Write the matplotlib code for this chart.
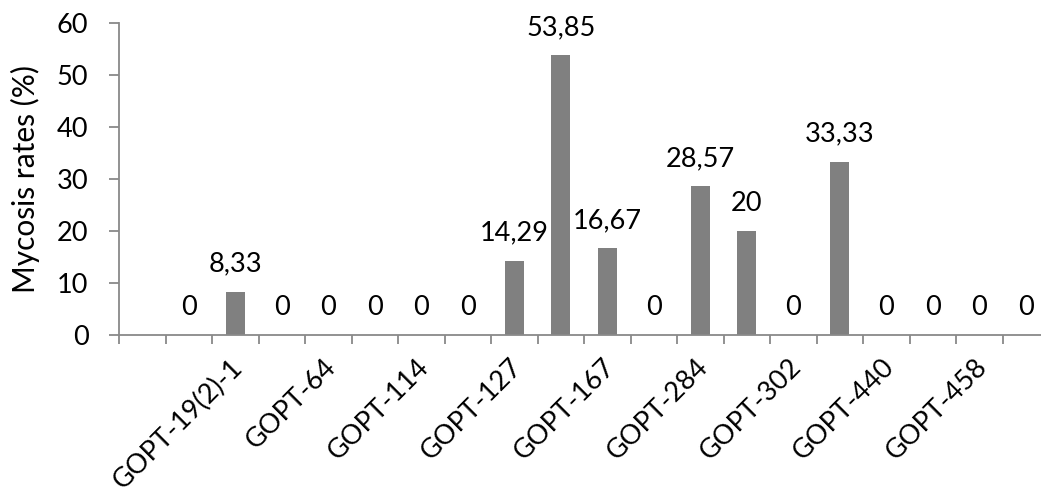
"""
Mycosis rates per GOPT line (bar chart)
"""

import matplotlib.pyplot as plt
import matplotlib.ticker as mticker
import matplotlib.transforms as mtrans

#---------------------------------------------------------------------------------------------------
# Input Parameters
#---------------------------------------------------------------------------------------------------

# Category slots (index 0 is an empty leading slot in the original chart)
n_slots = 20

# Mycosis rates (%) for slots 1..19
rates = [0, 8.33, 0, 0, 0, 0, 0, 14.29, 53.85, 16.67, 0, 28.57, 20, 0, 33.33, 0, 0, 0, 0]

# Only every other category is labelled on the x axis
label_slots = [2, 4, 6, 8, 10, 12, 14, 16, 18]
label_names = ['GOPT-19(2)-1', 'GOPT-64', 'GOPT-114', 'GOPT-127', 'GOPT-167',
               'GOPT-284', 'GOPT-302', 'GOPT-440', 'GOPT-458']

ylabel = 'Mycosis rates (%)'
yticks = [0, 10, 20, 30, 40, 50, 60]

out_fname = 'out.png'

#---------------------------------------------------------------------------------------------------
# Main Program
#---------------------------------------------------------------------------------------------------

plt.rcParams['font.family'] = ['Lato', 'DejaVu Sans']
fontsize = 19.5
axis_color = '#898989'

W, H = 1041, 493
fig = plt.figure(figsize=(W / 100, H / 100), dpi=100)
ax = fig.add_axes([119 / W, (H - 335) / H, 930 / W, (335 - 23) / H])

slots = list(range(1, n_slots))
ax.bar(slots, rates, width=0.4, color='#808080', zorder=2)

# Data labels
for x, v in zip(slots, rates):
    txt = f"{v:g}".replace('.', ',')
    ax.annotate(txt, (x, v), xytext=(0, 14.5), textcoords='offset points',
                ha='center', va='baseline', fontsize=fontsize)

# Axes limits and ticks
ax.set_xlim(-0.5, n_slots - 0.5)
ax.set_ylim(0, 60)
ax.set_yticks(yticks)
ax.xaxis.set_major_locator(mticker.FixedLocator([i - 0.5 for i in range(n_slots + 1)]))
ax.xaxis.set_major_formatter(mticker.NullFormatter())
ax.set_xticks(label_slots, labels=label_names, minor=True)
ax.tick_params(axis='x', which='minor', length=0, pad=14, labelsize=fontsize)
ax.tick_params(axis='x', which='major', length=6.5, width=1.3, color=axis_color, direction='out')
ax.tick_params(axis='y', length=7, width=1.3, color=axis_color, direction='out',
               labelsize=fontsize, pad=15)
shift = mtrans.ScaledTranslation(-0.05, 0, fig.dpi_scale_trans)
for lbl in ax.get_xticklabels(minor=True):
    lbl.set_rotation(45)
    lbl.set_ha('right')
    lbl.set_va('top')
    lbl.set_rotation_mode('anchor')
    lbl.set_transform(lbl.get_transform() + shift)

for side in ['top', 'right']:
    ax.spines[side].set_visible(False)
for side in ['left', 'bottom']:
    ax.spines[side].set_color(axis_color)
    ax.spines[side].set_linewidth(1.3)

ax.set_ylabel(ylabel, fontsize=21.5, labelpad=12)

plt.savefig(out_fname, dpi=100)
plt.close()
